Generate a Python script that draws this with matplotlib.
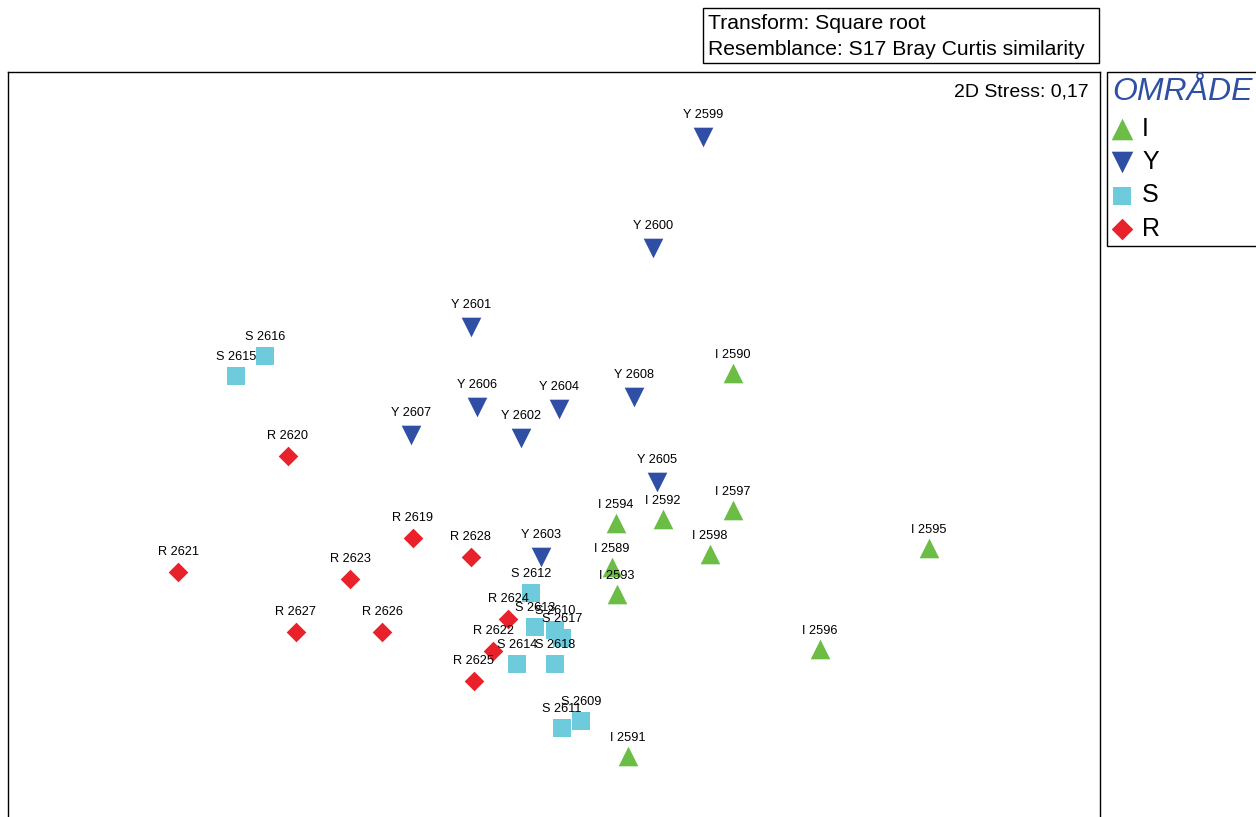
import matplotlib
matplotlib.use('Agg')
import matplotlib.pyplot as plt
from matplotlib.patches import Rectangle

plt.rcParams['font.family'] = ['Liberation Sans', 'DejaVu Sans']

# ===== nMDS coordinates =====
i_labels = ['I 2590', 'I 2597', 'I 2594', 'I 2592', 'I 2598',
            'I 2595', 'I 2589', 'I 2593', 'I 2596', 'I 2591']
i_x = [0.597, 0.597, 0.207, 0.363, 0.520, 1.250, 0.193, 0.210, 0.887, 0.247]
i_y = [0.257, -0.200, -0.243, -0.230, -0.347, -0.327, -0.390, -0.480, -0.663, -1.020]

y_labels = ['Y 2599', 'Y 2600', 'Y 2601', 'Y 2606', 'Y 2604',
            'Y 2608', 'Y 2607', 'Y 2602', 'Y 2605', 'Y 2603']
y_x = [0.497, 0.330, -0.277, -0.257, 0.017, 0.267, -0.477, -0.110, 0.343, -0.043]
y_y = [1.043, 0.673, 0.410, 0.143, 0.137, 0.177, 0.050, 0.040, -0.107, -0.357]

s_labels = ['S 2616', 'S 2615', 'S 2612', 'S 2613', 'S 2610',
            'S 2617', 'S 2614', 'S 2618', 'S 2609', 'S 2611']
s_x = [-0.963, -1.060, -0.077, -0.063, 0.003, 0.027, -0.123, 0.003, 0.090, 0.027]
s_y = [0.313, 0.247, -0.477, -0.590, -0.600, -0.627, -0.713, -0.713, -0.903, -0.927]

r_labels = ['R 2620', 'R 2619', 'R 2628', 'R 2621', 'R 2623',
            'R 2627', 'R 2626', 'R 2624', 'R 2622', 'R 2625']
r_x = [-0.887, -0.470, -0.277, -1.253, -0.680, -0.860, -0.573, -0.153, -0.203, -0.267]
r_y = [-0.020, -0.293, -0.357, -0.407, -0.430, -0.607, -0.607, -0.563, -0.670, -0.770]

stress = '2D Stress: 0,17'
info_lines = ['Transform: Square root', 'Resemblance: S17 Bray Curtis similarity']

GREEN = '#6bbd45'
BLUE = '#2f4fa5'
CYAN = '#6ecbdb'
RED = '#e8212a'

W, H = 1256, 817
fig = plt.figure(figsize=(W / 100, H / 100), dpi=100)
# axes runs past the bottom edge of the picture
ax = fig.add_axes([8 / W, 1 - 830 / H, (1100 - 8) / W, (830 - 72) / H])
ax.set_xlim(-1.82, 1.82)
ax.set_ylim(-1.2667, 1.26)
ax.set_xticks([])
ax.set_yticks([])
for sp in ax.spines.values():
    sp.set_linewidth(1.0)

groups = [
    ('I', i_x, i_y, i_labels, '^', GREEN, 200, 11),
    ('Y', y_x, y_y, y_labels, 'v', BLUE, 200, 13.5),
    ('S', s_x, s_y, s_labels, 's', CYAN, 150, 11.5),
    ('R', r_x, r_y, r_labels, 'D', RED, 100, 12),
]

handles = []
for name, xs, ys, labs, mk, col, sz, off in groups:
    h = ax.scatter(xs, ys, marker=mk, s=sz, color=col, linewidths=0, zorder=3, label=name)
    handles.append(h)
    for x, y, lab in zip(xs, ys, labs):
        ax.annotate(lab, (x, y), xytext=(0, off), textcoords='offset points',
                    ha='center', va='baseline', fontsize=9.2, zorder=4)

ax.text(0.9895, 0.985, stress, transform=ax.transAxes, ha='right', va='top', fontsize=14)

# info box above the plot
fig.patches.append(Rectangle((703 / W, 1 - 63 / H), (1099 - 703) / W, 55 / H,
                             transform=fig.transFigure, fc='white', ec='black', lw=1.0))
fig.text(708 / W, 1 - 29 / H, info_lines[0], fontsize=15.2, va='baseline')
fig.text(708 / W, 1 - 55 / H, info_lines[1], fontsize=15.2, va='baseline')

leg = ax.legend(handles=handles, loc='upper left', bbox_to_anchor=(1107 / W, 1 - 72 / H),
                bbox_transform=fig.transFigure, borderaxespad=0, fontsize=18,
                title='OMRÅDE', title_fontproperties={'size': 23, 'style': 'italic'},
                alignment='left', fancybox=False, edgecolor='black', framealpha=1,
                borderpad=0.2, handlelength=0.8, handletextpad=0.4, labelspacing=0.38,
                markerscale=1.1)
leg.get_title().set_color(BLUE)
leg.get_frame().set_linewidth(1.0)

fig.savefig('out.png', dpi=100)
